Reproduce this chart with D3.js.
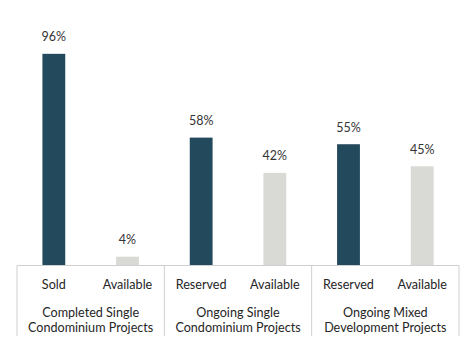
<!DOCTYPE html>
<html><head><meta charset="utf-8">
<script src="https://cdn.jsdelivr.net/npm/d3@7"></script>
<style>body{margin:0;background:#fff}svg{display:block}</style>
</head><body>
<svg id="c" width="468" height="338"></svg>
<script>
const groups = [["Completed Single","Condominium Projects"],["Ongoing Single","Condominium Projects"],["Ongoing Mixed","Development Projects"]];
const categories = ["Sold","Available","Reserved","Available","Reserved","Available"];
const values = [96,4,58,42,55,45];
const kinds = ["main","avail","main","avail","main","avail"];
const valueLabels = ["96%","4%","58%","42%","55%","45%"];

const svg = d3.select("#c");
const left = 17, right = 459, base = 265.5, bottom = 336;
const x = d3.scaleBand().domain(d3.range(values.length)).range([left,right]).paddingInner(0.69).paddingOuter(0.345);
const y = d3.scaleLinear().domain([0,100]).range([base, base-220.5]);
const font = "Lato, 'Open Sans', sans-serif";
const colors = {main:"#23495c", avail:"#d9dad5"};

svg.selectAll("rect.bar").data(values).join("rect")
  .attr("x",(d,i)=>x(i)).attr("width",x.bandwidth())
  .attr("y",d=>y(d)).attr("height",d=>base-y(d))
  .attr("fill",(d,i)=>colors[kinds[i]]);

svg.selectAll("text.val").data(values).join("text")
  .attr("x",(d,i)=>x(i)+x.bandwidth()/2).attr("y",d=>y(d)-12.5)
  .attr("text-anchor","middle").attr("font-family",font).attr("font-size",12.5)
  .attr("fill","#333").text((d,i)=>valueLabels[i]);

const gw = (right-left)/groups.length;
svg.append("line").attr("x1",left).attr("x2",right).attr("y1",base).attr("y2",base)
  .attr("stroke","#cfcfcf").attr("stroke-width",1);
d3.range(groups.length+1).forEach(k=>{
  const xx = left + k*gw;
  svg.append("line").attr("x1",xx).attr("x2",xx).attr("y1",base).attr("y2",bottom)
    .attr("stroke","#cfcfcf").attr("stroke-width",1);
});

svg.selectAll("text.cat").data(categories).join("text")
  .attr("x",(d,i)=>x(i)+x.bandwidth()/2).attr("y",288.5)
  .attr("text-anchor","middle").attr("font-family",font).attr("font-size",12.6)
  .attr("fill","#262626").text(d=>d);

groups.forEach((g,k)=>{
  const cx = left + (k+0.5)*gw;
  g.forEach((line,j)=>{
    svg.append("text").attr("x",cx).attr("y",316.5+j*15)
      .attr("text-anchor","middle").attr("font-family",font).attr("font-size",12.6)
      .attr("fill","#262626").text(line);
  });
});
</script>
</body></html>
